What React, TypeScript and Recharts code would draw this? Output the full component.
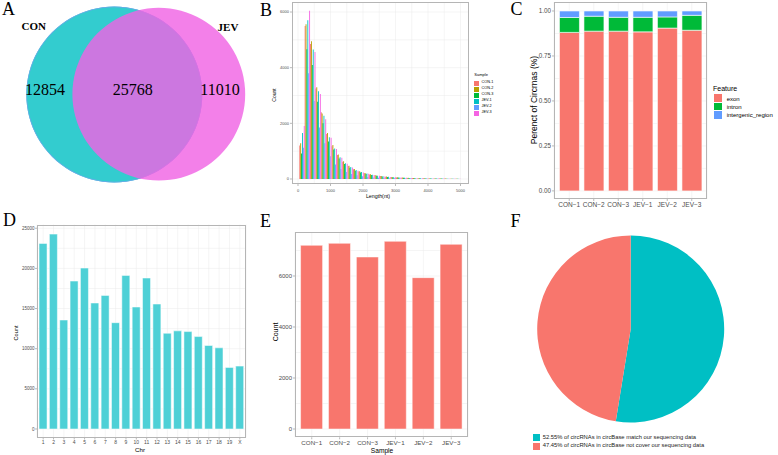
import React from 'react';
import { BarChart, Bar, XAxis, YAxis, CartesianGrid, PieChart, Pie, Cell } from 'recharts';

const SANS = '"Liberation Sans", Arial, sans-serif';
const SERIF = '"Liberation Serif", "Times New Roman", serif';

// ---------- Panel A: Venn ----------
const vennSets = ['CON', 'JEV'];
const vennCounts = [12854, 25768, 11010]; // CON only, shared, JEV only

// ---------- Panel B: length histogram ----------
const lengthBins = [123, 288, 454, 619, 784, 950, 1115, 1280, 1445, 1611, 1776, 1941, 2107, 2272, 2437, 2603, 2768, 2933, 3098, 3264, 3429, 3594, 3760, 3925, 4090, 4256, 4421, 4586, 4751, 4917];
const lenCON1 = [1200, 5500, 4850, 3250, 2400, 1620, 1180, 860, 620, 470, 350, 270, 210, 165, 130, 105, 85, 70, 58, 48, 40, 34, 29, 25, 21, 18, 16, 14, 12, 10];
const lenCON2 = [1280, 5560, 4950, 3300, 2350, 1650, 1220, 880, 640, 480, 360, 280, 215, 170, 135, 108, 88, 72, 60, 50, 42, 35, 30, 26, 22, 19, 16, 14, 12, 11];
const lenCON3 = [920, 4660, 4100, 2780, 2000, 1350, 1060, 740, 540, 400, 300, 230, 180, 140, 112, 90, 72, 60, 50, 42, 35, 30, 25, 22, 19, 16, 14, 12, 10, 9];
const lenJEV1 = [1650, 5700, 4650, 3150, 2270, 1500, 1100, 780, 570, 430, 320, 250, 195, 150, 120, 96, 78, 64, 53, 44, 37, 31, 27, 23, 20, 17, 15, 13, 11, 10];
const lenJEV2 = [1120, 3800, 2800, 1850, 1280, 820, 520, 360, 250, 180, 130, 95, 75, 58, 46, 37, 30, 25, 21, 18, 15, 13, 11, 10, 8, 7, 6, 5, 5, 4];
const lenJEV3 = [1900, 6050, 4560, 3050, 2150, 1480, 1080, 760, 550, 410, 300, 235, 185, 145, 115, 92, 75, 62, 51, 43, 36, 30, 26, 22, 19, 16, 14, 12, 11, 9];
const sampleNames = ['CON-1', 'CON-2', 'CON-3', 'JEV-1', 'JEV-2', 'JEV-3'];
const sampleColors = ['#F8766D', '#B79F00', '#00BA38', '#00BFC4', '#619CFF', '#F564E3'];
const lenSeries = [lenCON1, lenCON2, lenCON3, lenJEV1, lenJEV2, lenJEV3];

// ---------- Panel C: feature fractions ----------
const featSamples = ['CON\u22121', 'CON\u22122', 'CON\u22123', 'JEV\u22121', 'JEV\u22122', 'JEV\u22123'];
const exonFrac = [0.881, 0.888, 0.888, 0.884, 0.905, 0.893];
const intronFrac = [0.083, 0.083, 0.077, 0.081, 0.062, 0.083];
const intergenicFrac = [0.036, 0.029, 0.035, 0.035, 0.033, 0.024];
const featureNames = ['exon', 'intron', 'intergenic_region'];
const featureColors = ['#F8766D', '#00BA38', '#619CFF'];

// ---------- Panel D: chromosome counts ----------
const chrNames = ['1', '2', '3', '4', '5', '6', '7', '8', '9', '10', '11', '12', '13', '14', '15', '16', '17', '18', '19', 'X'];
const chrCounts = [23110, 24270, 13570, 18420, 20040, 15690, 16640, 13240, 19130, 15190, 18800, 15560, 11920, 12220, 12130, 11510, 10400, 10110, 7670, 7830];

// ---------- Panel E: per-sample counts ----------
const sampleCounts = [7203, 7281, 6745, 7359, 5935, 7242];

// ---------- Panel F: circBase pie ----------
const circLabels = [
  '52.55% of circRNAs in circBase match our sequencing data',
  '47.45% of circRNAs in circBase not cover our sequencing data',
];
const circPct = [52.55, 47.45];
const circColors = ['#00BFC4', '#F8766D'];

// tables
const histData = lengthBins.map((b, i) => {
  const row: any = { len: b };
  sampleNames.forEach((s, k) => { row[s] = lenSeries[k][i]; });
  return row;
});
const featData = featSamples.map((s, i) => ({ sample: s, exon: exonFrac[i], intron: intronFrac[i], intergenic_region: intergenicFrac[i] }));
const chrData = chrNames.map((c, i) => ({ chr: c, count: chrCounts[i] }));
const sampleData = featSamples.map((s, i) => ({ sample: s, count: sampleCounts[i] }));
const circData = circLabels.map((l, i) => ({ name: l, value: circPct[i] }));

const T = ({ x, y, size, children, anchor = 'middle', rotate = 0, weight = 400, family = SANS, color = '#000' }: any) => {
  const tx = anchor === 'start' ? '0' : anchor === 'end' ? '-100%' : '-50%';
  return (
    <div style={{ position: 'absolute', left: x, top: y, fontSize: size, fontFamily: family, fontWeight: weight, color, lineHeight: 1, whiteSpace: 'nowrap', transform: `translate(${tx},-50%) rotate(${rotate}deg)` }}>
      {children}
    </div>
  );
};

const Border = ({ x1, y1, x2, y2 }: any) => (
  <div style={{ position: 'absolute', left: x1, top: y1, width: x2 - x1, height: y2 - y1, border: '1px solid #B5B5B5', boxSizing: 'border-box', pointerEvents: 'none' }} />
);

const Abs = ({ x, y, children }: any) => <div style={{ position: 'absolute', left: x, top: y }}>{children}</div>;

const tickStyle = (size: number) => ({ fontSize: size, fill: '#4D4D4D', fontFamily: SANS });
const tl = { stroke: '#8C8C8C', strokeWidth: 0.6 };

export default function App() {
  return (
    <div style={{ position: 'fixed', left: 0, top: 0, width: 778, height: 455, background: '#fff', overflow: 'hidden' }}>
      {/* Panel A */}
      <Abs x={0} y={0}>
        <PieChart width={260} height={185}>
          <Pie data={[{ name: vennSets[0], value: 1 }]} dataKey="value" cx={109.3} cy={89.5} outerRadius={88} startAngle={0} endAngle={360} fill="#33CCCF" stroke="none" isAnimationActive={false} />
          <Pie data={[{ name: vennSets[0] + '-edge', value: 1 }]} dataKey="value" cx={109.3} cy={89.5} innerRadius={87.3} outerRadius={88} startAngle={0} endAngle={360} fill="#6FA6EA" stroke="none" isAnimationActive={false} />
          <Pie data={[{ name: vennSets[1], value: 1 }]} dataKey="value" cx={153.8} cy={89.2} outerRadius={86.4} startAngle={0} endAngle={360} fill="#F062E4" fillOpacity={0.81} stroke="none" isAnimationActive={false} />
        </PieChart>
      </Abs>
      <T x={33.7} y={25.8} size={11} weight={700} family={SERIF}>{vennSets[0]}</T>
      <T x={228} y={27} size={11} weight={700} family={SERIF}>{vennSets[1]}</T>
      <T x={45} y={89.5} size={16} family={SERIF}>{vennCounts[0]}</T>
      <T x={132.7} y={89.5} size={16} family={SERIF}>{vennCounts[1]}</T>
      <T x={220} y={89.5} size={16} family={SERIF}>{vennCounts[2]}</T>

      {/* Panel B */}
      <Abs x={260} y={0}>
        <BarChart width={258} height={205} data={histData} margin={{ top: 2, right: 49, bottom: 0, left: 0 }} barGap={0} barCategoryGap={0}>
          <CartesianGrid stroke="#EBEBEB" strokeWidth={0.5} horizontalValues={[0, 1000, 2000, 3000, 4000, 5000, 6000]} verticalValues={[0, 500, 1000, 1500, 2000, 2500, 3000, 3500, 4000, 4500, 5000]} />
          <XAxis dataKey="len" type="number" domain={[-185, 5262]} allowDataOverflow ticks={[0, 1000, 2000, 3000, 4000, 5000]} interval={0} height={21} axisLine={false} tickLine={tl} tickSize={2} tickMargin={3} tick={tickStyle(4)} />
          <YAxis type="number" domain={[-180, 6360]} allowDataOverflow ticks={[0, 2000, 4000, 6000]} interval={0} width={32} axisLine={false} tickLine={tl} tickSize={2} tickMargin={1} tick={tickStyle(4)} />
          {sampleNames.map((s, i) => (
            <Bar key={s} dataKey={s} fill={sampleColors[i]} isAnimationActive={false} />
          ))}
        </BarChart>
      </Abs>
      <Border x1={292} y1={2} x2={469} y2={184} />
      <T x={273.5} y={95} size={5} rotate={-90}>Count</T>
      <T x={378} y={197} size={5.3}>Length(nt)</T>
      <T x={474.3} y={75.3} size={4} anchor="start">Sample</T>
      {sampleNames.map((s, i) => (
        <React.Fragment key={s}>
          <div style={{ position: 'absolute', left: 474.3, top: 80.7 + i * 6, width: 5, height: 5, background: sampleColors[i] }} />
          <T x={481.5} y={83.2 + i * 6} size={3.8} anchor="start">{s}</T>
        </React.Fragment>
      ))}

      {/* Panel C */}
      <Abs x={510} y={0}>
        <BarChart width={268} height={215} data={featData} margin={{ top: 2, right: 71, bottom: 0, left: 0 }} barCategoryGap="10%">
          <CartesianGrid stroke="#EBEBEB" strokeWidth={0.5} horizontalValues={[0, 0.125, 0.25, 0.375, 0.5, 0.625, 0.75, 0.875, 1]} />
          <XAxis dataKey="sample" padding={{ left: 3, right: 3 }} interval={0} height={16} axisLine={false} tickLine={tl} tickSize={2} tickMargin={1.5} tick={tickStyle(6.5)} />
          <YAxis type="number" domain={[-0.045, 1.05]} allowDataOverflow ticks={[0, 0.25, 0.5, 0.75, 1]} interval={0} tickFormatter={(v: number) => v.toFixed(2)} width={44} axisLine={false} tickLine={tl} tickSize={2} tickMargin={1} tick={tickStyle(6.3)} />
          {featureNames.map((f, i) => (
            <Bar key={f} dataKey={f} stackId="a" fill={featureColors[i]} stroke="#fff" strokeWidth={0.6} isAnimationActive={false} />
          ))}
        </BarChart>
      </Abs>
      <Border x1={554} y1={2} x2={707} y2={199} />
      <T x={533.7} y={100} size={8.5} rotate={-90}>Perenct of Circrnas (%)</T>
      <T x={713} y={88} size={7} anchor="start">Feature</T>
      {featureNames.map((f, i) => (
        <React.Fragment key={f}>
          <div style={{ position: 'absolute', left: 714, top: 94.3 + i * 8.3, width: 8.3, height: 7.8, background: featureColors[i] }} />
          <T x={726.7} y={98.5 + i * 8.3} size={6} anchor="start">{f}</T>
        </React.Fragment>
      ))}

      {/* Panel D */}
      <Abs x={0} y={205}>
        <BarChart width={260} height={250} data={chrData} margin={{ top: 19.5, right: 14, bottom: 0, left: 0 }} barCategoryGap="10%">
          <CartesianGrid stroke="#EBEBEB" strokeWidth={0.5} horizontalValues={[0, 2500, 5000, 7500, 10000, 12500, 15000, 17500, 20000, 22500, 25000]} />
          <XAxis dataKey="chr" padding={{ left: 1, right: 1 }} interval={0} height={17.5} axisLine={false} tickLine={tl} tickSize={2} tickMargin={1} tick={tickStyle(5)} />
          <YAxis type="number" domain={[-1060, 25467]} allowDataOverflow ticks={[0, 5000, 10000, 15000, 20000, 25000]} interval={0} width={37} axisLine={false} tickLine={tl} tickSize={2} tickMargin={0.5} tick={tickStyle(4.5)} />
          <Bar dataKey="count" fill="#4ED0D6" stroke="#fff" strokeWidth={0.5} isAnimationActive={false} />
        </BarChart>
      </Abs>
      <Border x1={37} y1={224.5} x2={246} y2={437.5} />
      <T x={16.7} y={332.5} size={5.6} rotate={-90}>Count</T>
      <T x={140} y={450} size={6.2}>Chr</T>

      {/* Panel E */}
      <Abs x={260} y={205}>
        <BarChart width={258} height={250} data={sampleData} margin={{ top: 27, right: 50, bottom: 0, left: 0 }} barCategoryGap="10%">
          <CartesianGrid stroke="#EBEBEB" strokeWidth={0.5} horizontalValues={[0, 1000, 2000, 3000, 4000, 5000, 6000, 7000]} />
          <XAxis dataKey="sample" padding={{ left: 2.8, right: 2.8 }} interval={0} height={17.7} axisLine={false} tickLine={tl} tickSize={2} tickMargin={1} tick={tickStyle(6.2)} />
          <YAxis type="number" domain={[-325, 7725]} allowDataOverflow ticks={[0, 2000, 4000, 6000]} interval={0} width={35} axisLine={false} tickLine={tl} tickSize={2} tickMargin={1} tick={tickStyle(6)} />
          <Bar dataKey="count" fill="#F8766D" stroke="#fff" strokeWidth={0.5} isAnimationActive={false} />
        </BarChart>
      </Abs>
      <Border x1={295} y1={232} x2={468} y2={437.3} />
      <T x={274.5} y={332} size={7} rotate={-90}>Count</T>
      <T x={382} y={450.5} size={6.6}>Sample</T>

      {/* Panel F */}
      <Abs x={510} y={215}>
        <PieChart width={268} height={215}>
          <Pie data={circData} dataKey="value" cx={115.7} cy={109} outerRadius={93.5} startAngle={90} endAngle={-270} stroke="none" isAnimationActive={false}>
            {circData.map((d, i) => <Cell key={d.name} fill={circColors[i]} />)}
          </Pie>
        </PieChart>
      </Abs>
      {circLabels.map((l, i) => (
        <React.Fragment key={l}>
          <div style={{ position: 'absolute', left: 532.7, top: 434 + i * 8.8, width: 7.3, height: 7, background: circColors[i] }} />
          <T x={542.7} y={437.5 + i * 8.8} size={5.8} anchor="start" color="#222">{l}</T>
        </React.Fragment>
      ))}

      {/* Panel letters */}
      <T x={2} y={9.2} size={18} anchor="start" family={SERIF}>A</T>
      <T x={260} y={10} size={18} anchor="start" family={SERIF}>B</T>
      <T x={510.5} y={9.2} size={18} anchor="start" family={SERIF}>C</T>
      <T x={3} y={219.7} size={18} anchor="start" family={SERIF}>D</T>
      <T x={260} y={221} size={18} anchor="start" family={SERIF}>E</T>
      <T x={510.5} y={221} size={18} anchor="start" family={SERIF}>F</T>
    </div>
  );
}
